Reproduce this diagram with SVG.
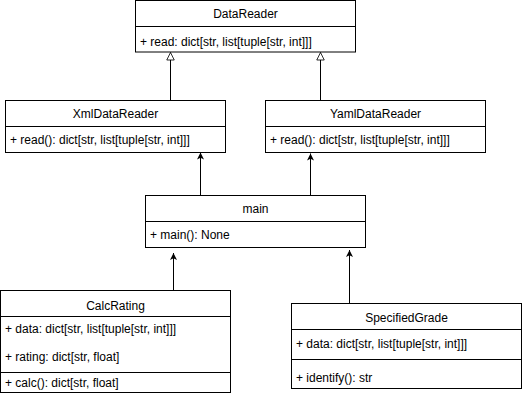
<svg xmlns="http://www.w3.org/2000/svg" width="522" height="406" viewBox="0 0 522 406">
<style>
.box{fill:#fff;stroke:#000;stroke-width:1}
.div{stroke:#000;stroke-width:1;fill:none}
.t{font-family:"Liberation Sans",Arial,sans-serif;font-size:12px;fill:#000}
.c{text-anchor:middle}
.e{stroke:#000;stroke-width:1;fill:none}
</style>
<defs>
<marker id="classic" viewBox="0 0 10 10" refX="10" refY="5" markerWidth="9" markerHeight="7" markerUnits="userSpaceOnUse" orient="auto">
<path d="M0,0 L10,5 L0,10 L2.5,5 z" fill="#000" stroke="none"/>
</marker>
<marker id="tri" viewBox="-1 -1 12 12" refX="10" refY="5" markerWidth="11" markerHeight="9" markerUnits="userSpaceOnUse" orient="auto">
<path d="M0,0 L10,5 L0,10 z" fill="#fff" stroke="#000" stroke-width="1.1"/>
</marker>
</defs>
<rect width="522" height="406" fill="#fff"/>
<g id="connectors">
<path class="e" d="M170.5,100 L170.5,52.5" marker-end="url(#tri)"/>
<path class="e" d="M320.5,100 L320.5,52.5" marker-end="url(#tri)"/>
<path class="e" d="M200.5,195 L200.5,152.5" marker-end="url(#classic)"/>
<path class="e" d="M310.5,195 L310.5,153.5" marker-end="url(#classic)"/>
<path class="e" d="M173.5,290.5 L173.5,253" marker-end="url(#classic)"/>
<path class="e" d="M349.5,303.5 L349.5,250" marker-end="url(#classic)"/>
</g>
<g id="DataReader">
<rect class="box" x="135.5" y="0.5" width="220" height="51.5"/>
<path class="div" d="M135.5,26.5 H355.5"/>
<text class="t c" x="245.5" y="17.5">DataReader</text>
<text class="t" x="140" y="45.5">+ read: dict[str, list[tuple[str, int]]]</text>
</g>
<g id="XmlDataReader">
<rect class="box" x="5.5" y="100.5" width="220" height="52"/>
<path class="div" d="M5.5,126.5 H225.5"/>
<text class="t c" x="115.5" y="117.5">XmlDataReader</text>
<text class="t" x="10" y="143.5">+ read(): dict[str, list[tuple[str, int]]]</text>
</g>
<g id="YamlDataReader">
<rect class="box" x="265.5" y="100.5" width="220" height="52"/>
<path class="div" d="M265.5,126.5 H485.5"/>
<text class="t c" x="375.5" y="117.5">YamlDataReader</text>
<text class="t" x="270" y="143.5">+ read(): dict[str, list[tuple[str, int]]]</text>
</g>
<g id="main">
<rect class="box" x="145.5" y="195.5" width="220" height="52"/>
<path class="div" d="M145.5,221.5 H365.5"/>
<text class="t c" x="255.5" y="212.5">main</text>
<text class="t" x="150" y="238.5">+ main(): None</text>
</g>
<g id="CalcRating">
<rect class="box" x="0.5" y="290.5" width="230" height="102"/>
<path class="div" d="M0.5,316.5 H230.5 M0.5,372.5 H230.5"/>
<text class="t c" x="115.5" y="309.5">CalcRating</text>
<text class="t" x="5" y="332.5">+ data: dict[str, list[tuple[str, int]]]</text>
<text class="t" x="5" y="361">+ rating: dict[str, float]</text>
<text class="t" x="5" y="387">+ calc(): dict[str, float]</text>
</g>
<g id="SpecifiedGrade">
<rect class="box" x="291.5" y="303.5" width="230" height="85"/>
<path class="div" d="M291.5,329.5 H521.5 M291.5,359.5 H521.5"/>
<text class="t c" x="406.5" y="322">SpecifiedGrade</text>
<text class="t" x="296" y="348">+ data: dict[str, list[tuple[str, int]]]</text>
<text class="t" x="296" y="381.5">+ identify(): str</text>
</g>
</svg>
